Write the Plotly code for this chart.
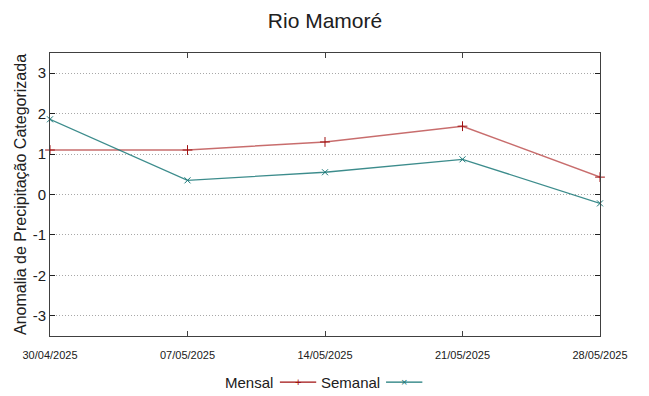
import plotly.graph_objects as go

dates = ["2025-04-30", "2025-05-07", "2025-05-14", "2025-05-21", "2025-05-28"]
tick_labels = ["30/04/2025", "07/05/2025", "14/05/2025", "21/05/2025", "28/05/2025"]
mensal = [1.1, 1.1, 1.3, 1.69, 0.43]
semanal = [1.86, 0.35, 0.55, 0.87, -0.22]
y_ticks = [-3, -2, -1, 0, 1, 2, 3]
y_tick_labels = ["-3", "-2", "-1", "0", "1", "2", "3"]

red = "#a01010"
teal = "#1a7878"
FONT = "Liberation Sans, Arial, sans-serif"

fig = go.Figure()
fig.add_trace(go.Scatter(
    x=dates, y=mensal, mode="lines+markers", name="Mensal",
    line=dict(color="rgba(170,30,30,0.65)", width=1.5),
    marker=dict(symbol="cross-thin", size=7, line=dict(color=red, width=1), color=red),
    cliponaxis=False, showlegend=False))
fig.add_trace(go.Scatter(
    x=dates, y=semanal, mode="lines+markers", name="Semanal",
    line=dict(color="rgba(26,120,120,0.85)", width=1.3),
    marker=dict(symbol="x-thin", size=6, line=dict(color=teal, width=1), color=teal),
    cliponaxis=False, showlegend=False))

# manual legend (gnuplot style: text then sample)
legend_y = -0.163
fig.add_annotation(xref="paper", yref="paper", x=0.409, y=legend_y, text="Mensal",
                   showarrow=False, xanchor="right", yanchor="middle",
                   font=dict(family=FONT, size=15, color="#202020"))
fig.add_shape(type="line", xref="paper", yref="paper", x0=0.418, x1=0.484,
              y0=legend_y, y1=legend_y, line=dict(color=red, width=1.3))
fig.add_annotation(xref="paper", yref="paper", x=0.451, y=legend_y, text="+",
                   showarrow=False, xanchor="center", yanchor="middle",
                   font=dict(family=FONT, size=11, color=red))
fig.add_annotation(xref="paper", yref="paper", x=0.603, y=legend_y, text="Semanal",
                   showarrow=False, xanchor="right", yanchor="middle",
                   font=dict(family=FONT, size=15, color="#202020"))
fig.add_shape(type="line", xref="paper", yref="paper", x0=0.611, x1=0.677,
              y0=legend_y, y1=legend_y, line=dict(color=teal, width=1.3))
fig.add_annotation(xref="paper", yref="paper", x=0.644, y=legend_y, text="×",
                   showarrow=False, xanchor="center", yanchor="middle",
                   font=dict(family=FONT, size=11, color=teal))

fig.update_layout(
    width=649, height=396,
    margin=dict(l=50, r=49, t=53, b=60, autoexpand=False),
    paper_bgcolor="white", plot_bgcolor="white",
    title=dict(text="Rio Mamoré", x=0.5, xref="paper", xanchor="center",
               y=0.948, yref="container", yanchor="middle",
               font=dict(family=FONT, size=21, color="#202020")),
    font=dict(family=FONT, color="#202020"),
    xaxis=dict(type="date", range=["2025-04-30", "2025-05-28"],
               tickvals=dates, ticktext=tick_labels, automargin=False,
               tickfont=dict(size=11), ticks="inside", ticklen=5,
               ticklabelstandoff=9,
               tickcolor="#404040", showgrid=False, zeroline=False,
               showline=True, linecolor="#404040", linewidth=1, mirror="ticks"),
    yaxis=dict(range=[-3.5, 3.5], tickvals=y_ticks, ticktext=y_tick_labels,
               automargin=False,
               tickfont=dict(size=15), ticks="inside", ticklen=5,
               tickcolor="#202020", showgrid=True, gridcolor="#a8a8a8",
               griddash="1px,2px", gridwidth=1, zeroline=False,
               showline=True, linecolor="#404040", linewidth=1, mirror="ticks",
               title=dict(text="Anomalia de Precipitação Categorizada",
                          font=dict(size=16), standoff=2)),
)

fig.write_html("out.html", config={"displayModeBar": False},
               post_script="document.body.style.margin='0';document.body.style.padding='0';")
